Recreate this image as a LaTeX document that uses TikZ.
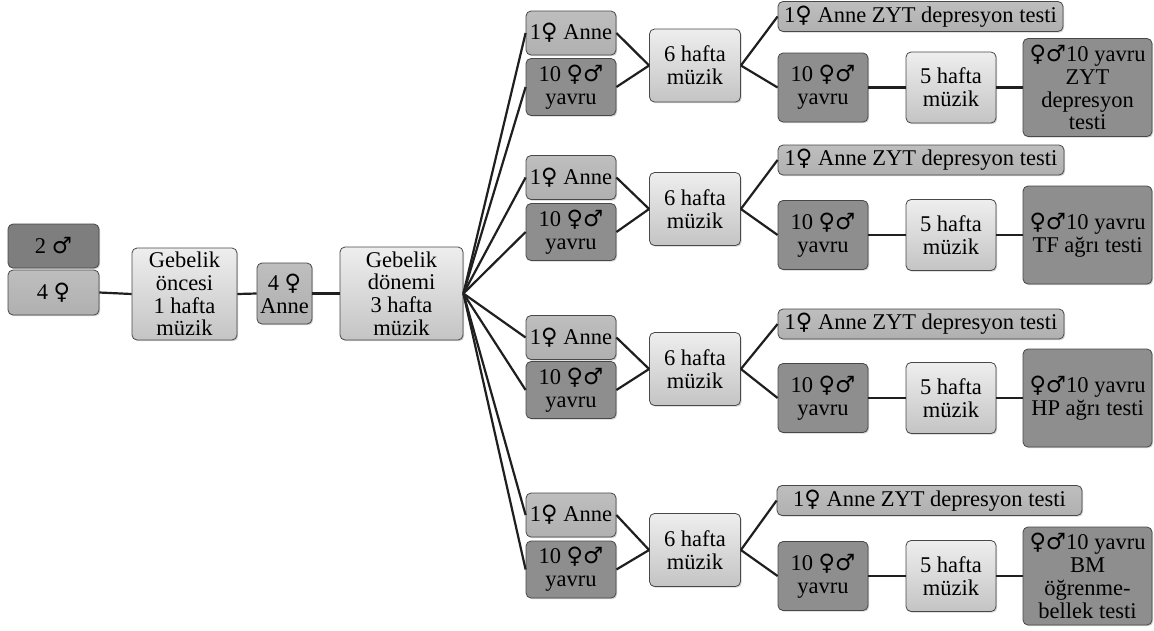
\documentclass[tikz,border=0pt]{standalone}
\usepackage{fontspec}
\setmainfont{Liberation Serif}
\newfontfamily\symfont[Scale=1.0]{DejaVu Sans}
\usepackage{tikz}
\usetikzlibrary{shadows}
\definecolor{deepgrey}{RGB}{126, 126, 126}
\definecolor{darkgrey}{RGB}{142, 142, 142}
\definecolor{midgrey}{RGB}{176, 176, 176}
\definecolor{midtop}{RGB}{190, 190, 190}
\definecolor{lightgrey}{RGB}{238, 238, 238}
\definecolor{shadegrey}{RGB}{196, 196, 196}
\definecolor{edgegrey}{RGB}{72, 72, 72}
\newcommand{\fem}{{\symfont ♀}}
\newcommand{\mal}{{\symfont ♂}}

\tikzset{
    box/.style={draw=edgegrey, line width=0.8pt, rounded corners=5pt, inner sep=1pt, align=center,
        font=\fontsize{22.5}{22.8}\selectfont,
        drop shadow={opacity=0.35, shadow xshift=1.2pt, shadow yshift=-1.2pt}},
    darkbox/.style={box, fill=darkgrey},
    midbox/.style={box, top color=midtop, bottom color=midgrey},
    lightbox/.style={box, top color=lightgrey, bottom color=shadegrey},
    link/.style={line width=2.2pt, draw=black!88},
}

\begin{document}
\begin{tikzpicture}[x=1pt, y=-1pt]
    \path[use as bounding box, fill=white] (0,0) rectangle (1154,630);

    % start groups
    \node[darkbox, fill=deepgrey, minimum width=91pt, minimum height=44pt] (male) at (53.5,246) {2 \mal};
    \node[midbox, minimum width=91pt, minimum height=45pt] (female) at (53.5,292.5) {4 \fem};
    \node[lightbox, minimum width=105pt, minimum height=92pt] (before) at (184.5,294) {Gebelik\\öncesi\\1 hafta\\müzik};
    \node[midbox, minimum width=55pt, minimum height=61pt] (mothers) at (284.5,293.5) {4 \fem\\Anne};
    \node[lightbox, minimum width=123pt, minimum height=93pt] (during) at (401.5,293.5) {Gebelik\\dönemi\\3 hafta\\müzik};

    \draw[link] (female.east) -- (before.west);
    \draw[link] (before.east) -- (mothers.west);
    \draw[link] (mothers.east) -- (during.west);

    % four branches
    \foreach \n/\ya/\yb/\ys/\yt/\yr/\tw/\tx/\ftext in {
        1/33/87/65.5/16.5/87.5/285/920.5/{\fem\mal10 yavru\\ZYT\\depresyon\\testi},
        2/177.5/232/209/160/235/286/921/{\fem\mal10 yavru\\TF ağrı testi},
        3/337.5/390/369/324/398/286/921/{\fem\mal10 yavru\\HP ağrı testi},
        4/515/569.5/550/500.5/576/305/929.5/{\fem\mal10 yavru\\BM\\öğrenme-\\bellek testi}}
    {
        \node[midbox, minimum width=90pt, minimum height=44pt] (anne\n) at (571,\ya) {1\fem\ Anne};
        \node[darkbox, minimum width=90pt, minimum height=57pt] (young\n) at (571,\yb) {10 \fem\mal\\yavru};
        \node[lightbox, minimum width=91pt, minimum height=73pt] (six\n) at (695,\ys) {6 hafta\\müzik};
        \node[midbox, minimum width=\tw pt, minimum height=30pt] (test\n) at (\tx,\yt) {1\fem\ Anne ZYT depresyon testi};
        \node[darkbox, minimum width=90pt, minimum height=69pt] (pups\n) at (823,\yr) {10 \fem\mal\\yavru};
        \node[lightbox, minimum width=90pt, minimum height=71pt] (five\n) at (951,\yr) {5 hafta\\müzik};
        \node[darkbox, minimum width=129pt, minimum height=98pt] (final\n) at (1087.5,\yr) {\ftext};

        \draw[link] (during.east) -- (anne\n.west);
        \draw[link] (during.east) -- (young\n.west);
        \draw[link] (anne\n.east) -- (six\n.west);
        \draw[link] (young\n.east) -- (six\n.west);
        \draw[link] (six\n.east) -- (test\n.west);
        \draw[link] (six\n.east) -- (pups\n.west);
        \draw[link] (pups\n.east) -- (five\n.west);
        \draw[link] (five\n.east) -- (final\n.west);
    }
\end{tikzpicture}
\end{document}
